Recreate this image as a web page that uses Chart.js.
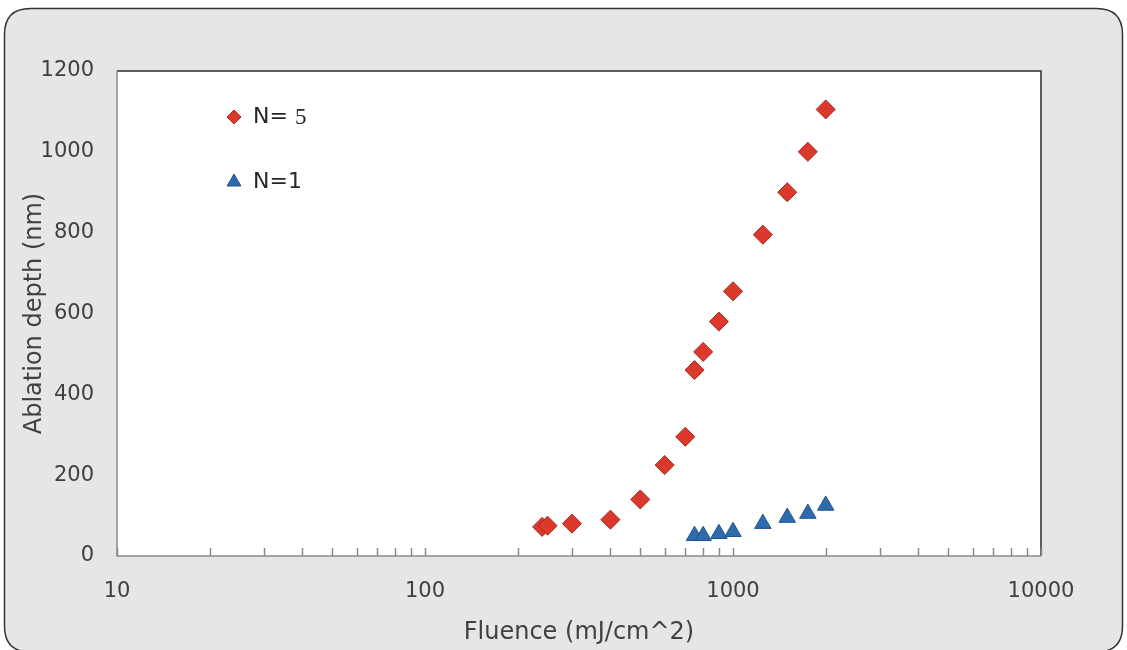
<!DOCTYPE html>
<html><head><meta charset="utf-8">
<script src="https://cdn.jsdelivr.net/npm/chart.js@4"></script>
<style>html,body{margin:0;padding:0;background:#fff;overflow:hidden}#wrap{width:1127px;height:650px;position:relative}</style>
</head><body><div id="wrap"><canvas id="c" width="1127" height="650"></canvas></div>
<script>
// ---- data ----
const fluenceN5 = [240, 250, 300, 400, 500, 600, 700, 750, 800, 900, 1000, 1250, 1500, 1750, 2000];
const depthN5   = [72, 75, 80, 90, 140, 225, 295, 460, 505, 580, 655, 795, 900, 1000, 1105];
const fluenceN1 = [750, 800, 900, 1000, 1250, 1500, 1750, 2000];
const depthN1   = [50, 50, 55, 60, 80, 95, 105, 125];
const xMajorTicks = [10, 100, 1000, 10000];
const xMinorMultipliers = [2, 3, 4, 5, 6, 7, 8, 9];
const yTicks = [0, 200, 400, 600, 800, 1000, 1200];
const seriesLabels = ['N= 5', 'N=1'];
const xTitle = 'Fluence (mJ/cm^2)';
const yTitle = 'Ablation depth (nm)';

const xAllTicks = [];
xMajorTicks.forEach((m, i) => {
  xAllTicks.push(m);
  if (i < xMajorTicks.length - 1) xMinorMultipliers.forEach(k => xAllTicks.push(m * k));
});

const TXT = '#404040';
const FONT = 'DejaVu Sans';

const framePlugin = {
  id: 'frame',
  beforeDraw(chart) {
    const ctx = chart.ctx, a = chart.chartArea;
    ctx.save();
    ctx.fillStyle = '#ffffff';
    ctx.fillRect(0, 0, chart.width, chart.height);
    const x0 = 4.5, y0 = 8.5, x1 = 1122.5, y1 = 652, r = 26;
    ctx.beginPath();
    ctx.moveTo(x0 + r, y0);
    ctx.lineTo(x1 - r, y0);
    ctx.quadraticCurveTo(x1, y0, x1, y0 + r);
    ctx.lineTo(x1, y1 - r);
    ctx.quadraticCurveTo(x1, y1, x1 - r, y1);
    ctx.lineTo(x0 + r, y1);
    ctx.quadraticCurveTo(x0, y1, x0, y1 - r);
    ctx.lineTo(x0, y0 + r);
    ctx.quadraticCurveTo(x0, y0, x0 + r, y0);
    ctx.closePath();
    ctx.fillStyle = '#e7e6e6';
    ctx.fill();
    ctx.lineWidth = 1.5;
    ctx.strokeStyle = '#333333';
    ctx.stroke();
    ctx.fillStyle = '#ffffff';
    ctx.fillRect(a.left, a.top, a.right - a.left, a.bottom - a.top);
    ctx.restore();
  },
  beforeDatasetsDraw(chart) {
    const ctx = chart.ctx, a = chart.chartArea, xs = chart.scales.x;
    ctx.save();
    ctx.lineWidth = 1.5;
    ctx.strokeStyle = '#2e2e2e';
    ctx.beginPath();
    ctx.moveTo(a.left, a.top); ctx.lineTo(a.right, a.top); ctx.lineTo(a.right, a.bottom);
    ctx.stroke();
    ctx.strokeStyle = '#8a8a8a';
    ctx.beginPath();
    ctx.moveTo(a.left, a.top); ctx.lineTo(a.left, a.bottom); ctx.lineTo(a.right, a.bottom);
    ctx.stroke();
    ctx.strokeStyle = '#8a8a8a';
    ctx.lineWidth = 1.5;
    xAllTicks.forEach(v => {
      const px = Math.round(xs.getPixelForValue(v)) + 0.5;
      ctx.beginPath();
      ctx.moveTo(px, a.bottom);
      ctx.lineTo(px, a.bottom - 8);
      ctx.stroke();
    });
    ctx.restore();
  },
  afterDraw(chart) {
    const ctx = chart.ctx;
    const items = [
      { ds: chart.data.datasets[0], x: 234, y: 117, r: 7 },
      { ds: chart.data.datasets[1], x: 234, y: 182, r: 8 }
    ];
    ctx.save();
    items.forEach(it => {
      ctx.fillStyle = it.ds.backgroundColor;
      ctx.strokeStyle = it.ds.borderColor;
      ctx.lineWidth = 1;
      if (Chart.helpers && Chart.helpers.drawPoint) {
        Chart.helpers.drawPoint(ctx, { pointStyle: it.ds.pointStyle, rotation: 0, radius: it.r, borderWidth: 1 }, it.x, it.y);
      }
      ctx.fillStyle = '#262626';
      ctx.textBaseline = 'middle';
      ctx.textAlign = 'left';
      const lbl = it.ds.label;
      const m = lbl.match(/^(N=\s*)(\d+)$/);
      if (m && m[1].length > 2) {
        ctx.font = '22px "DejaVu Sans"';
        ctx.fillText(m[1], 253, it.y);
        const w = ctx.measureText(m[1]).width;
        ctx.font = '23px "Liberation Serif"';
        ctx.fillText(m[2], 253 + w, it.y + 1);
      } else {
        ctx.font = '22px "DejaVu Sans"';
        ctx.fillText(lbl, 253, it.y);
      }
    });
    ctx.restore();
  }
};

new Chart(document.getElementById('c'), {
  type: 'scatter',
  data: {
    datasets: [
      {
        label: seriesLabels[0],
        data: fluenceN5.map((x, i) => ({ x: x, y: depthN5[i] })),
        pointStyle: 'rectRot', pointRadius: 9.5,
        backgroundColor: '#dc392d', borderColor: '#a8261d', borderWidth: 1
      },
      {
        label: seriesLabels[1],
        data: fluenceN1.map((x, i) => ({ x: x, y: depthN1[i] })),
        pointStyle: 'triangle', pointRadius: 9.5,
        backgroundColor: '#2f6aac', borderColor: '#23558c', borderWidth: 1
      }
    ]
  },
  options: {
    responsive: false, animation: false, devicePixelRatio: 1,
    layout: { padding: { left: 0, top: 71, right: 86, bottom: 0 } },
    plugins: { legend: { display: false }, tooltip: { enabled: false } },
    scales: {
      x: {
        type: 'logarithmic', min: 10, max: 10000,
        afterBuildTicks: s => { s.ticks = xAllTicks.map(v => ({ value: v, major: xMajorTicks.includes(v) })); },
        afterFit: s => { s.height = 94; },
        ticks: {
          autoSkip: false, maxRotation: 0, minRotation: 0, padding: 23,
          color: TXT, font: { family: FONT, size: 21 },
          callback: v => (xMajorTicks.includes(v) ? String(v) : '')
        },
        grid: { display: false, drawTicks: false }, border: { display: false },
        title: { display: true, text: xTitle, color: TXT, font: { family: FONT, size: 24 }, padding: { top: 0, bottom: 3 } }
      },
      y: {
        min: 0, max: 1200,
        afterBuildTicks: s => { s.ticks = yTicks.map(v => ({ value: v })); },
        afterFit: s => { s.width = 117; },
        ticks: { padding: 23, color: TXT, font: { family: FONT, size: 21 }, callback: v => String(v) },
        grid: { display: false, drawTicks: false }, border: { display: false },
        title: { display: true, text: yTitle, color: TXT, font: { family: FONT, size: 24 }, padding: { top: 20, bottom: 0 } }
      }
    }
  },
  plugins: [framePlugin]
});
</script>
</body></html>
